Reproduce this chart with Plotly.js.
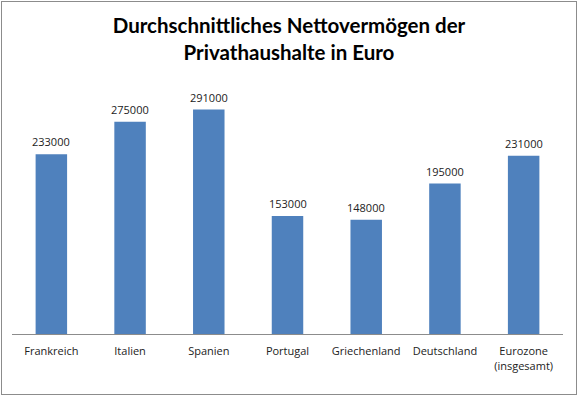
<!DOCTYPE html>
<html>
<head>
<meta charset="utf-8">
<script src="https://cdn.plot.ly/plotly-3.0.1.min.js"></script>
<style>
html,body{margin:0;padding:0;background:#fff;}
#wrap{position:relative;width:578px;height:396px;}
#chart{width:578px;height:396px;}
#frame{position:absolute;left:1px;top:1px;width:574px;height:392px;border:1px solid #8c8c8c;pointer-events:none;}
</style>
</head>
<body>
<div id="wrap"><div id="chart"></div><div id="frame"></div></div>
<script>
const categories = ["Frankreich", "Italien", "Spanien", "Portugal", "Griechenland", "Deutschland", "Eurozone<br>(insgesamt)"];
const values = [233000, 275000, 291000, 153000, 148000, 195000, 231000];
const titleText = "Durchschnittliches Nettovermögen der<br>Privathaushalte in Euro";

const trace = {
  type: "bar",
  x: categories,
  y: values,
  marker: {color: "#4f81bd"},
  hoverinfo: "none"
};

const labelAnnotations = categories.map((c, i) => ({
  x: c,
  y: values[i],
  xref: "x",
  yref: "y",
  text: String(values[i]),
  showarrow: false,
  xanchor: "center",
  yanchor: "bottom",
  yshift: 3,
  font: {family: "Open Sans, sans-serif", size: 11, color: "#222"}
}));

const layout = {
  width: 578,
  height: 396,
  margin: {l: 12, r: 15, t: 64, b: 62},
  paper_bgcolor: "#fff",
  plot_bgcolor: "#fff",
  bargap: 0.6,
  showlegend: false,
  title: {
    text: titleText,
    font: {family: "Lato, sans-serif", size: 20.5, color: "#000", weight: "bold"},
    x: 0.5,
    xanchor: "center",
    y: 0.917,
    yanchor: "top"
  },
  annotations: labelAnnotations,
  xaxis: {
    showline: true,
    linecolor: "#8c8c8c",
    linewidth: 1,
    ticks: "",
    ticklabelstandoff: 7,
    showgrid: false,
    zeroline: false,
    tickfont: {family: "Open Sans, sans-serif", size: 11, color: "#222"},
    fixedrange: true
  },
  yaxis: {
    range: [0, 350000],
    visible: false,
    showgrid: false,
    zeroline: false,
    fixedrange: true
  }
};

Plotly.newPlot("chart", [trace], layout, {displayModeBar: false, staticPlot: true});
</script>
</body>
</html>
